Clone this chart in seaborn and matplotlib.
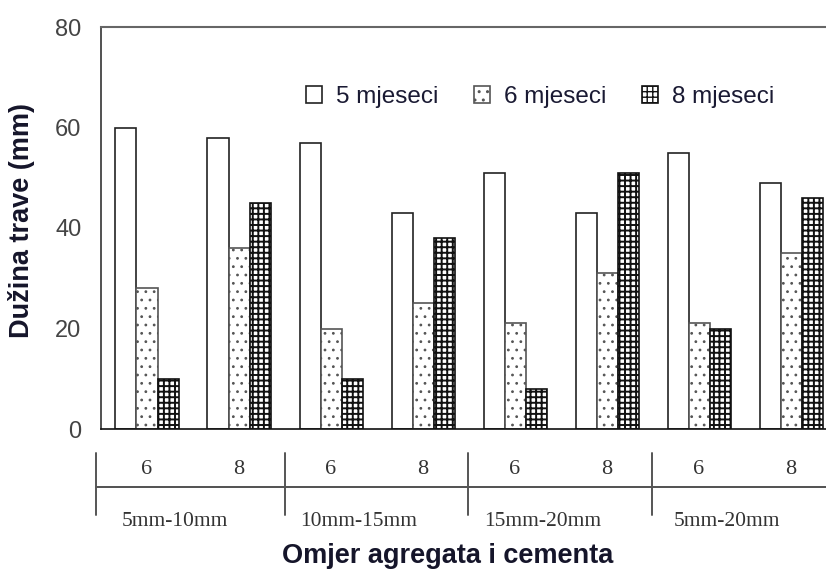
import matplotlib
matplotlib.use("Agg")
import matplotlib.pyplot as plt
import matplotlib.transforms as mtransforms
import pandas as pd
import seaborn as sns

# values
groups = ['5mm-10mm', '10mm-15mm', '15mm-20mm', '5mm-20mm']
ratios = ['6', '8']
months = ['5 mjeseci', '6 mjeseci', '8 mjeseci']
m5 = [60, 58, 57, 43, 51, 43, 55, 49]
m6 = [28, 36, 20, 25, 21, 31, 21, 35]
m8 = [10, 45, 10, 38, 8, 51, 20, 46]

sns.set_style('white')
plt.rcParams['font.family'] = ['Liberation Sans', 'DejaVu Sans']
plt.rcParams['hatch.linewidth'] = 1.0

cats = [g + ' / ' + r for g in groups for r in ratios]
df = pd.DataFrame({'cat': cats, months[0]: m5, months[1]: m6, months[2]: m8})
df_melt = df.melt(id_vars='cat', var_name='mjeseci', value_name='duzina')

fig = plt.figure(figsize=(8.26, 5.76), dpi=100)
ax = fig.add_axes([101 / 826, 1 - 429 / 576, 725 / 826, 402 / 576])

sns.barplot(data=df_melt, x='cat', y='duzina', hue='mjeseci', order=cats,
            hue_order=months, palette=['white'] * 3, width=0.685,
            edgecolor='#222222', linewidth=1.2, legend=False, ax=ax)

hatches = ['', '..', '+++']
hatch_colors = ['#222222', '#555555', '#111111']
hatch_widths = [1.0, 0.8, 1.4]
for cont, h, hc, hw in zip(ax.containers, hatches, hatch_colors, hatch_widths):
    for bar in cont:
        bar.set_hatch(h)
        bar.set_edgecolor(hc)
        if hasattr(bar, 'set_hatch_linewidth'):
            bar.set_hatch_linewidth(hw)
        elif hasattr(bar, '_hatch_linewidth'):
            bar._hatch_linewidth = hw

ax.set_ylim(0, 80)
ax.set_xlim(-0.5, 7.38)
ax.set_yticks([0, 20, 40, 60, 80])
ax.tick_params(axis='y', direction='in', length=6.5, width=1, pad=14,
               labelsize=17, labelcolor='#444444', color='#333333')
ax.set_xticks(range(len(cats)))
ax.set_xticklabels(ratios * len(groups), family='Liberation Serif',
                   fontsize=16, color='#333333')
ax.tick_params(axis='x', which='major', length=0, pad=22)
ax.set_xticks([i + 0.5 for i in range(len(cats) - 1)], minor=True)
ax.tick_params(axis='x', which='minor', direction='in', length=3.5,
               width=1, color='#222222')

ax.spines['right'].set_visible(False)
ax.spines['top'].set_color('#666666')
ax.spines['top'].set_linewidth(1.5)
ax.spines['left'].set_color('#333333')
ax.spines['left'].set_linewidth(1.2)
ax.spines['bottom'].set_color('#111111')
ax.spines['bottom'].set_linewidth(1.2)

# two-level category axis below the plot
trans = mtransforms.blended_transform_factory(ax.transData, ax.transAxes)
ax.plot([-0.555, 7.38], [-0.144, -0.144], color='#222222', lw=1.1,
        transform=trans, clip_on=False)
for xs in [-0.555, 1.5, 3.49, 5.49]:
    ax.plot([xs, xs], [-0.06, -0.214], color='#555555', lw=1.4,
            transform=trans, clip_on=False)
for i, g in enumerate(groups):
    ax.text(2 * i + 0.5 - 0.2, -0.231, g, transform=trans, ha='center',
            va='center', family='Liberation Serif', fontsize=15.5,
            color='#333333')

ax.set_xlabel('')
ax.set_ylabel('')
fig.text(22 / 826, 1 - 220 / 576, 'Dužina trave (mm)', rotation=90,
         ha='center', va='center', fontsize=19.5, fontweight='bold',
         color='#15152a')
fig.text(448 / 826, 1 - 556 / 576, 'Omjer agregata i cementa',
         ha='center', va='center', fontsize=19.5, fontweight='bold',
         color='#15152a')

ax.legend(ax.containers, months, loc='center left',
          bbox_to_anchor=(306 / 826, 1 - 97 / 576),
          bbox_transform=fig.transFigure, ncol=3, frameon=False,
          fontsize=17.5, handlelength=0.65, handleheight=0.65,
          handletextpad=0.6, columnspacing=1.45, borderpad=0,
          borderaxespad=0, labelcolor='#1a1a33')

fig.savefig('out.png', dpi=100)
